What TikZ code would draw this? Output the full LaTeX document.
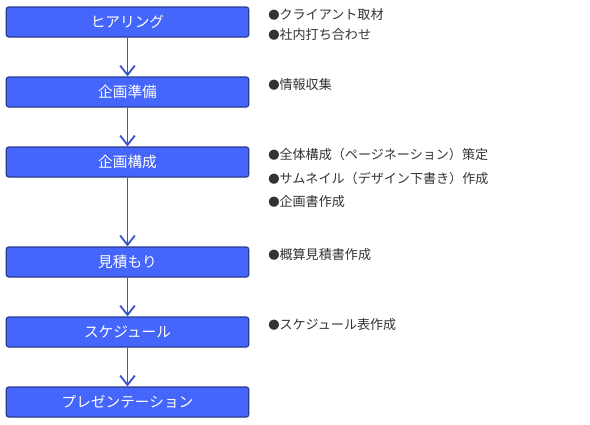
\documentclass[tikz,border=0pt]{standalone}
\usepackage{fontspec}
\setmainfont{Noto Sans CJK JP}
\usetikzlibrary{positioning, arrows.meta, patterns}
\definecolor{boxblue}{HTML}{4263FA}
\definecolor{boxline}{HTML}{2A3A92}
\definecolor{hatchblue}{HTML}{5070FF}
\definecolor{flowblue}{HTML}{3B56CC}
\definecolor{notegray}{HTML}{333333}
\newcommand{\notedot}{{\fontsize{8.5}{8.5}\selectfont ●}}

\tikzset{
  stepbox/.style={draw=boxline, line width=0.9pt, rounded corners=2pt,
    preaction={fill=boxblue}, pattern=north east lines, pattern color=hatchblue,
    minimum width=182pt, minimum height=22.5pt, text=white,
    font=\fontsize{11}{13}\selectfont},
  flow/.style={draw=flowblue, line width=1.4pt,
    -{Straight Barb[length=7pt, width=11pt, line width=1.4pt]}},
  note/.style={anchor=west, inner sep=0pt, text=notegray,
    font=\fontsize{9.8}{11}\selectfont}
}

\begin{document}
\begin{tikzpicture}[x=0.75pt, y=-0.75pt, node distance=52.5pt, on grid]
\useasboundingbox (0,0) rectangle (590,425);
		\node[stepbox] (hearing) at (127.5,22) {ヒアリング};
		\node[stepbox] (planprep) [below=of hearing] {企画準備};
		\node[stepbox] (planbuild) [below=of planprep] {企画構成};
		\node[stepbox] (estimate) [below=75pt of planbuild] {見積もり};
		\node[stepbox] (schedule) [below=of estimate] {スケジュール};
		\node[stepbox] (present) [below=of schedule] {プレゼンテーション};
		\path[flow]
		(hearing) edge (planprep)
		(planprep) edge (planbuild)
		(planbuild) edge (estimate)
		(estimate) edge (schedule)
		(schedule) edge (present)
		;
		% notes
		\node[note] (hearing1) at (268,15) {\notedot クライアント取材};
		\node[note] (hearing2) at (268,35) {\notedot 社内打ち合わせ};
		\node[note] (planprep1) at (268,85) {\notedot 情報収集};
		\node[note] (planbuild1) at (268,155) {\notedot 全体構成（ページネーション）策定};
		\node[note] (planbuild2) at (268,178.5) {\notedot サムネイル（デザイン下書き）作成};
		\node[note] (planbuild3) at (268,202) {\notedot 企画書作成};
		\node[note] (estimate1) at (268,255) {\notedot 概算見積書作成};
		\node[note] (schedule1) at (268,325) {\notedot スケジュール表作成};
\end{tikzpicture}
\end{document}
